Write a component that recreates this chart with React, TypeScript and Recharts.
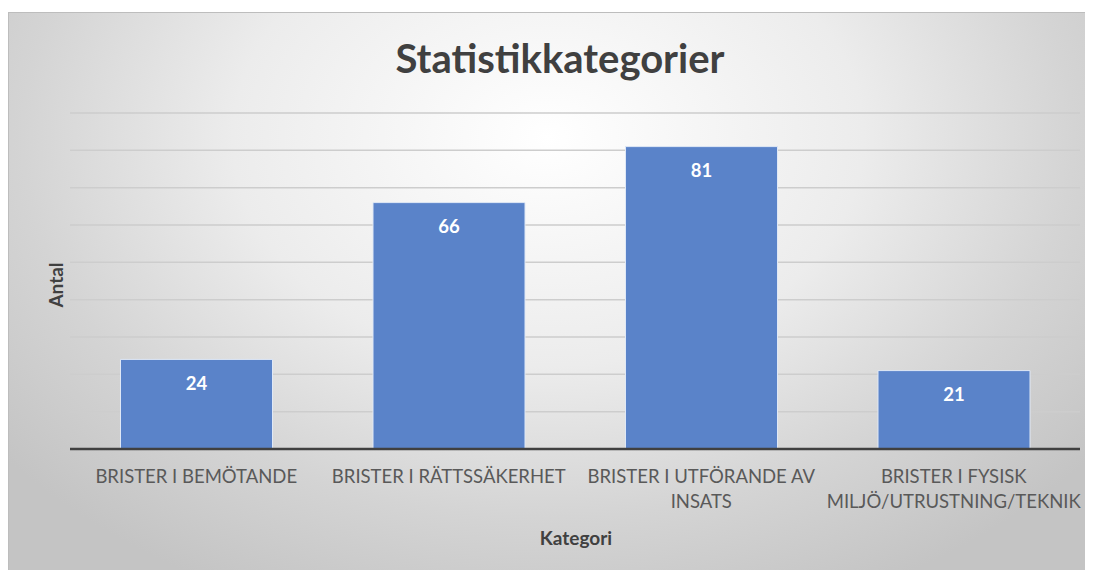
import { Bar, BarChart, CartesianGrid, LabelList, Text, XAxis, YAxis } from "recharts";

const categories = [
  "BRISTER I BEMÖTANDE",
  "BRISTER I RÄTTSSÄKERHET",
  "BRISTER I UTFÖRANDE AV INSATS",
  "BRISTER I FYSISK MILJÖ/UTRUSTNING/TEKNIK",
];
const antal = [24, 66, 81, 21];
const yTicks = [0, 10, 20, 30, 40, 50, 60, 70, 80, 90];

const data = categories.map((kategori, i) => ({ kategori, antal: antal[i] }));

const FONT = "Lato, 'Open Sans', sans-serif";

function CategoryTick(props: any) {
  const { x, y, payload } = props;
  return (
    <Text
      x={x}
      y={y + 13}
      width={248}
      textAnchor="middle"
      verticalAnchor="start"
      lineHeight={25}
      fontSize={18.5}
      fontFamily={FONT}
      fill="#595959"
    >
      {payload.value}
    </Text>
  );
}

export default function App() {
  return (
    <div style={{ paddingTop: 4 }}>
      <div
        style={{
          position: "relative",
          width: 1080,
          height: 566,
          boxSizing: "border-box",
          border: "1px solid #bdbdbd",
          background:
            "radial-gradient(ellipse 65% 90% at 50% 22%, #ffffff 0%, #ececec 45%, #d4d4d4 75%, #c4c4c4 100%)",
          fontFamily: FONT,
        }}
      >
        <div
          style={{
            position: "absolute",
            top: 23,
            left: 21,
            width: 1060,
            textAlign: "center",
            fontSize: 40,
            fontWeight: 700,
            color: "#404040",
            lineHeight: "44px",
          }}
        >
          Statistikkategorier
        </div>
        <div
          style={{
            position: "absolute",
            left: 46,
            top: 272,
            transform: "translate(-50%, -50%) rotate(-90deg)",
            fontSize: 19,
            fontWeight: 700,
            color: "#404040",
          }}
        >
          Antal
        </div>
        <div
          style={{
            position: "absolute",
            left: 467,
            width: 200,
            top: 514,
            textAlign: "center",
            fontSize: 19,
            fontWeight: 700,
            color: "#404040",
            lineHeight: "22px",
          }}
        >
          Kategori
        </div>
        <BarChart
          width={1078}
          height={560}
          data={data}
          margin={{ top: 100, right: 7, left: 61, bottom: 64 }}
          barCategoryGap="20%"
        >
          <CartesianGrid vertical={false} stroke="#cdcdcd" strokeWidth={1.5} />
          <YAxis hide domain={[0, 90]} ticks={yTicks} />
          <XAxis
            dataKey="kategori"
            height={60}
            interval={0}
            tickLine={false}
            axisLine={{ stroke: "#404040", strokeWidth: 2.5 }}
            tick={<CategoryTick />}
          />
          <Bar dataKey="antal" fill="#5a83c9" stroke="#dfe8f6" strokeWidth={1} isAnimationActive={false}>
            <LabelList
              dataKey="antal"
              position="insideTop"
              offset={17}
              fill="#ffffff"
              fontSize={18.5}
              fontWeight={700}
              fontFamily={FONT}
            />
          </Bar>
        </BarChart>
      </div>
    </div>
  );
}
